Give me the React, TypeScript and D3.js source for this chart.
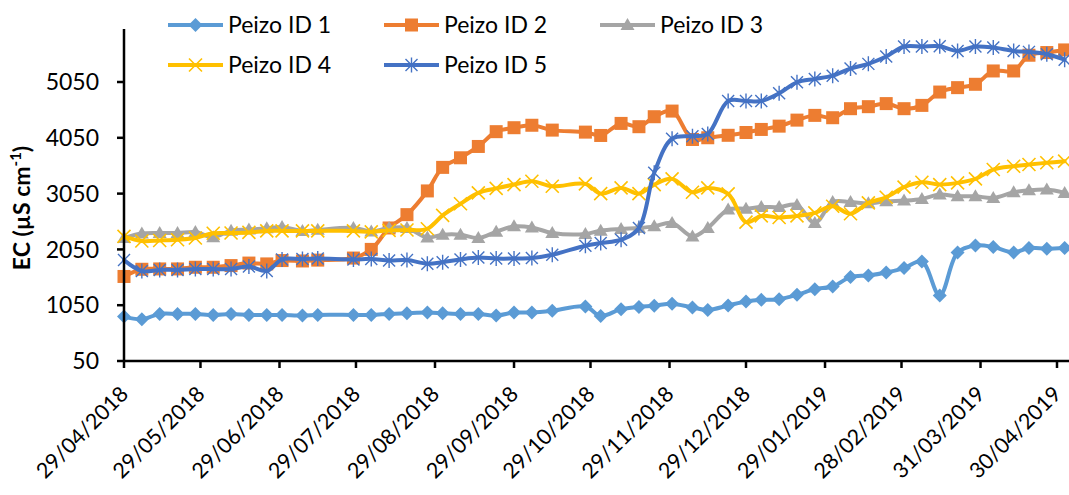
import React from "react";
import * as d3 from "d3";

// ---- data ----
const dates = [
  "2018-04-29", "2018-05-06", "2018-05-13", "2018-05-20", "2018-05-27", "2018-06-03",
  "2018-06-10", "2018-06-17", "2018-06-24", "2018-06-30", "2018-07-08", "2018-07-14",
  "2018-07-28", "2018-08-04", "2018-08-11", "2018-08-18", "2018-08-26", "2018-09-01",
  "2018-09-08", "2018-09-15", "2018-09-22", "2018-09-29", "2018-10-06", "2018-10-14",
  "2018-10-27", "2018-11-02", "2018-11-10", "2018-11-17", "2018-11-23", "2018-11-30",
  "2018-12-08", "2018-12-14", "2018-12-22", "2018-12-29", "2019-01-04", "2019-01-11",
  "2019-01-18", "2019-01-25", "2019-02-01", "2019-02-08", "2019-02-15", "2019-02-22",
  "2019-03-01", "2019-03-08", "2019-03-15", "2019-03-22", "2019-03-29", "2019-04-05",
  "2019-04-13", "2019-04-19", "2019-04-26", "2019-05-03",
];

const peizo1 = [
  846, 799, 894, 894, 894, 876, 894, 876, 876, 876, 864, 876,
  876, 876, 894, 907, 918, 907, 894, 894, 864, 918, 918, 950,
  1026, 858, 979, 1020, 1040, 1078, 1010, 965, 1045, 1115, 1146, 1158,
  1236, 1338, 1385, 1554, 1583, 1636, 1716, 1834, 1223, 1996, 2121, 2093,
  1996, 2075, 2062, 2075,
];
const peizo2 = [
  1565, 1694, 1700, 1700, 1730, 1730, 1760, 1805, 1790, 1850, 1843, 1858,
  1895, 2050, 2434, 2673, 3098, 3520, 3692, 3895, 4160, 4231, 4275, 4188,
  4152, 4092, 4308, 4249, 4428, 4529, 4020, 4051, 4095, 4145, 4200, 4259,
  4367, 4452, 4410, 4572, 4608, 4663, 4572, 4631, 4870, 4949, 5009, 5248,
  5248, 5530, 5578, 5625,
];
const peizo3 = [
  2254, 2335, 2344, 2344, 2360, 2270, 2385, 2405, 2430, 2452, 2380, 2400,
  2434, 2373, 2434, 2434, 2265, 2314, 2314, 2254, 2365, 2463, 2443, 2344,
  2326, 2386, 2416, 2434, 2463, 2524, 2283, 2434, 2763, 2780, 2808, 2808,
  2845, 2524, 2898, 2898, 2877, 2912, 2925, 2955, 3032, 3002, 3002, 2973,
  3074, 3110, 3122, 3063,
];
const peizo4 = [
  2283, 2200, 2210, 2224, 2254, 2340, 2343, 2355, 2382, 2382, 2382, 2382,
  2382, 2364, 2391, 2397, 2420, 2660, 2868, 3063, 3143, 3212, 3271, 3181,
  3225, 3050, 3152, 3050, 3212, 3314, 3074, 3152, 3045, 2540, 2650, 2622,
  2650, 2704, 2823, 2690, 2883, 2985, 3165, 3253, 3212, 3242, 3314, 3481,
  3541, 3571, 3602, 3631,
];
const peizo5 = [
  1858, 1663, 1683, 1683, 1697, 1697, 1697, 1744, 1663, 1870, 1877, 1886,
  1870, 1880, 1852, 1858, 1793, 1820, 1870, 1904, 1886, 1886, 1895, 1954,
  2116, 2165, 2224, 2434, 3422, 4033, 4080, 4120, 4709, 4709, 4709, 4847,
  5045, 5104, 5164, 5290, 5375, 5506, 5686, 5686, 5690, 5607, 5686, 5668,
  5607, 5590, 5548, 5450,
];

const seriesNames = ["Peizo ID 1", "Peizo ID 2", "Peizo ID 3", "Peizo ID 4", "Peizo ID 5"];
const yTicks = [50, 1050, 2050, 3050, 4050, 5050];
const xTickLabels = [
  "29/04/2018", "29/05/2018", "29/06/2018", "29/07/2018", "29/08/2018", "29/09/2018",
  "29/10/2018", "29/11/2018", "29/12/2018", "29/01/2019", "28/02/2019", "31/03/2019",
  "30/04/2019",
];

// ---- styling ----
const W = 1069;
const H = 495;
const colors = ["#5B9BD5", "#ED7D31", "#A5A5A5", "#FFC000", "#4472C4"];
const markerTypes = ["diamond", "square", "triangle", "x", "star"];
const FONT = "Lato, 'Open Sans', sans-serif";

const parseISO = d3.utcParse("%Y-%m-%d");
const parseDMY = d3.utcParse("%d/%m/%Y");

const x = d3
  .scaleUtc()
  .domain([parseDMY("29/04/2018") as Date, parseDMY("30/04/2019") as Date])
  .range([124, 1057]);
const y = d3.scaleLinear().domain([50, 6000]).range([361, 29]);

const allSeries = [peizo1, peizo2, peizo3, peizo4, peizo5];

function Marker({ type, color, cx, cy }: { type: string; color: string; cx: number; cy: number }) {
  const t = `translate(${cx},${cy})`;
  if (type === "diamond") {
    return <path transform={t} d="M0,-7L7,0L0,7L-7,0Z" fill={color} />;
  }
  if (type === "square") {
    return <rect transform={t} x={-6.5} y={-6.5} width={13} height={13} fill={color} />;
  }
  if (type === "triangle") {
    return <path transform={t} d="M0,-7L7,5L-7,5Z" fill={color} />;
  }
  if (type === "x") {
    return (
      <path transform={t} d="M-6.5,-6.5L6.5,6.5M-6.5,6.5L6.5,-6.5" stroke={color} strokeWidth={1.6} fill="none" />
    );
  }
  return (
    <path
      transform={t}
      d="M-6,-6L6,6M-6,6L6,-6M0,-7.5L0,7.5"
      stroke={color}
      strokeWidth={1.4}
      fill="none"
    />
  );
}

export default function App() {
  const parsedDates = dates.map((d) => parseISO(d) as Date);
  const line = d3
    .line<number>()
    .x((_, i) => x(parsedDates[i]))
    .y((v) => y(v))
    .curve(d3.curveCatmullRom.alpha(0.5));

  const legendPos = [
    { lx: 168, ly: 25 },
    { lx: 384, ly: 25 },
    { lx: 600, ly: 25 },
    { lx: 168, ly: 65 },
    { lx: 384, ly: 65 },
  ];

  return (
    <svg
      width={W}
      height={H}
      style={{ position: "absolute", left: 0, top: 0, background: "#fff" }}
      fontFamily={FONT}
    >
      <rect width={W} height={H} fill="#fff" />

      {/* series */}
      {allSeries.map((vals, si) => (
        <g key={si}>
          <path
            d={line(vals) || ""}
            fill="none"
            stroke={colors[si]}
            strokeWidth={4}
            strokeLinejoin="round"
            strokeLinecap="round"
          />
          {vals.map((v, i) => (
            <Marker key={i} type={markerTypes[si]} color={colors[si]} cx={x(parsedDates[i])} cy={y(v)} />
          ))}
        </g>
      ))}

      {/* y axis */}
      <line x1={124} x2={124} y1={y(6000)} y2={y(50) + 1} stroke="#000" strokeWidth={2.5} />
      {yTicks.map((t) => (
        <g key={t}>
          <line x1={117} x2={124} y1={y(t)} y2={y(t)} stroke="#000" strokeWidth={2.5} />
          <text x={99} y={y(t)} dy="0.36em" textAnchor="end" fontSize={23} fill="#000">
            {t}
          </text>
        </g>
      ))}

      {/* x axis */}
      <line x1={123} x2={W} y1={y(50)} y2={y(50)} stroke="#000" strokeWidth={2.5} />
      {xTickLabels.map((lab) => {
        const xp = x(parseDMY(lab) as Date);
        return (
          <g key={lab}>
            <line x1={xp} x2={xp} y1={y(50)} y2={y(50) + 7} stroke="#000" strokeWidth={2.5} />
            <text
              transform={`translate(${xp},${y(50) + 29}) rotate(-45)`}
              textAnchor="end"
              dy="0.36em"
              fontSize={21.5}
              fill="#000"
            >
              {lab}
            </text>
          </g>
        );
      })}

      {/* y axis title */}
      <text
        transform={`translate(30,208) rotate(-90)`}
        textAnchor="middle"
        fontSize={23}
        fontWeight="bold"
        fill="#000"
      >
        EC (µS cm
        <tspan fontSize={15} dy={-9}>
          -1
        </tspan>
        <tspan dy={9}>)</tspan>
      </text>

      {/* legend */}
      {seriesNames.map((name, si) => {
        const p = legendPos[si];
        return (
          <g key={name}>
            <line
              x1={p.lx}
              x2={p.lx + 55}
              y1={p.ly}
              y2={p.ly}
              stroke={colors[si]}
              strokeWidth={4}
            />
            <Marker type={markerTypes[si]} color={colors[si]} cx={p.lx + 27.5} cy={p.ly} />
            <text x={p.lx + 60} y={p.ly} dy="0.36em" fontSize={23} fill="#000">
              {name}
            </text>
          </g>
        );
      })}
    </svg>
  );
}
